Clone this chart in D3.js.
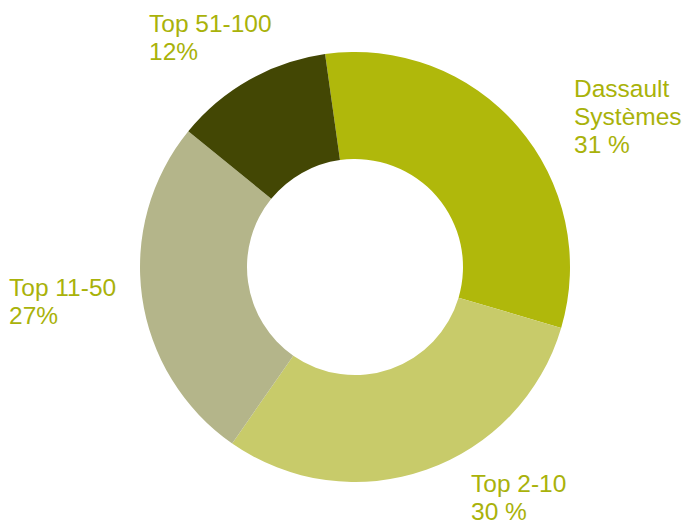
<!DOCTYPE html>
<html>
<head>
<meta charset="utf-8">
<script src="https://cdn.jsdelivr.net/npm/d3@7"></script>
<style>
  html, body { margin: 0; padding: 0; background: #ffffff; }
  svg { display: block; }
  text { font-family: "Liberation Sans", Arial, Helvetica, sans-serif; }
</style>
</head>
<body>
<svg id="chart" width="683" height="525"></svg>
<script>
const categories = ["Dassault Systèmes", "Top 2-10", "Top 11-50", "Top 51-100"];
const values = [31.8, 30.1, 26.2, 11.9];
const labelLines = [
  ["Dassault", "Systèmes", "31 %"],
  ["Top 2-10", "30 %"],
  ["Top 11-50", "27%"],
  ["Top 51-100", "12%"]
];
const colors = ["#b0b80b", "#c8cb6a", "#b4b58a", "#434704"];

const svg = d3.select("#chart");
const cx = 355, cy = 267, outerR = 215, innerR = 108;
const startDeg = -8;

const pie = d3.pie().sort(null).value(d => d)
  .startAngle(startDeg * Math.PI / 180)
  .endAngle((startDeg + 360) * Math.PI / 180);
const arc = d3.arc().innerRadius(innerR).outerRadius(outerR);

const g = svg.append("g").attr("transform", `translate(${cx},${cy})`);
g.selectAll("path")
  .data(pie(values))
  .join("path")
  .attr("d", arc)
  .attr("fill", (d, i) => colors[i]);

// Label anchor positions (first baseline) per category
const labelPos = [
  { x: 574, y: 97 },
  { x: 471, y: 492 },
  { x: 9, y: 296 },
  { x: 149, y: 32 }
];
const lineH = 27.8;

const lg = svg.append("g");
labelLines.forEach((lines, i) => {
  const t = lg.append("text")
    .attr("x", labelPos[i].x)
    .attr("y", labelPos[i].y)
    .attr("fill", "#a9b20a")
    .attr("font-size", "24.5px");
  lines.forEach((ln, j) => {
    t.append("tspan")
      .attr("x", labelPos[i].x)
      .attr("dy", j === 0 ? 0 : lineH)
      .text(ln);
  });
});
</script>
</body>
</html>
